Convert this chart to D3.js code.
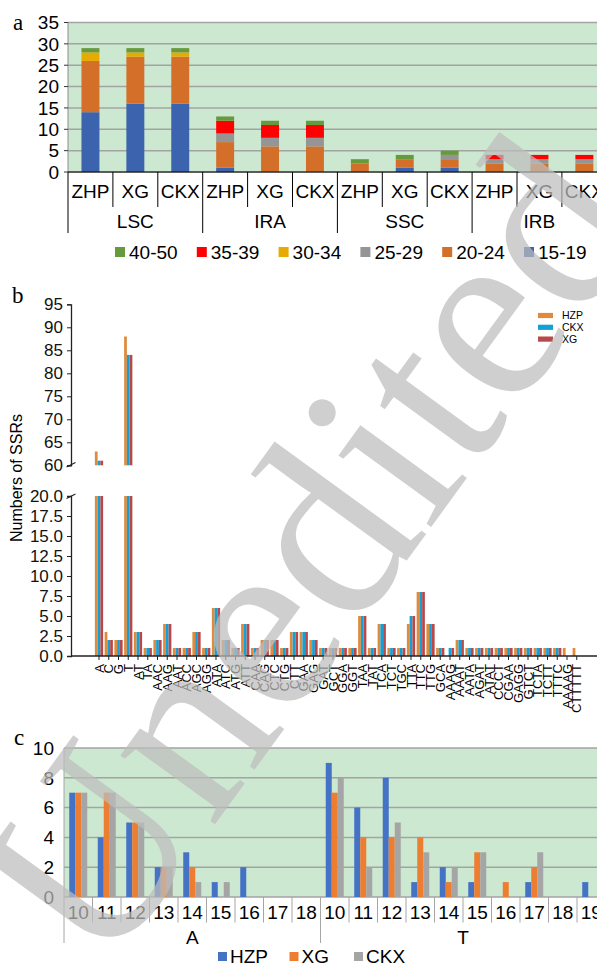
<!DOCTYPE html>
<html>
<head>
<meta charset="utf-8">
<script src="https://cdn.jsdelivr.net/npm/d3@7"></script>
<style>
  body { margin: 0; background: #fff; }
  svg { display: block; }
</style>
</head>
<body>
<svg id="chart" width="597" height="965"></svg>
<script>
// ---------- data: panel a (SSR length classes by region / sample)
const regions = ["LSC", "IRA", "SSC", "IRB"];
const samplesA = ["ZHP", "XG", "CKX"];
const lengthClasses = ["15-19", "20-24", "25-29", "30-34", "35-39", "40-50"];
// one value per region x sample, order LSC-ZHP, LSC-XG, LSC-CKX, IRA-ZHP ...
const len15_19 = [14, 16, 16, 1, 0, 0, 0, 1, 1, 0, 0, 0];
const len20_24 = [12, 11, 11, 6, 6, 6, 2, 2, 2, 2, 2, 2];
const len25_29 = [0, 0, 0, 2, 2, 2, 0, 0, 1, 1, 1, 1];
const len30_34 = [2, 1, 1, 0, 0, 0, 0, 0, 0, 0, 0, 0];
const len35_39 = [0, 0, 0, 3, 3, 3, 0, 0, 0, 1, 1, 1];
const len40_50 = [1, 1, 1, 1, 1, 1, 1, 1, 1, 0, 0, 0];
const yTicksA = [0, 5, 10, 15, 20, 25, 30, 35];

// ---------- data: panel b (SSR motifs)
const motifs = ["A", "C", "G", "T", "AT", "TA", "AAC", "AAG", "AAT", "ACC", "AGC", "AGG", "ATA", "ATC",
  "ATG", "ATT", "CAA", "CAG", "CTC", "CTG", "CTT", "GAA", "GAG", "GAT", "GCT", "GGA", "GGT", "TAA",
  "TAT", "TCA", "TCT", "TGC", "TTA", "TTC", "TTG", "GCA", "AAAG", "AAAT", "AATA", "AGAT", "ATAT", "CCCT",
  "CGAA", "GAGG", "GTCT", "TCTA", "TCTT", "TTTC", "AAAAG", "CTTTTT"];
const motifHZP = [63, 3, 2, 88, 3, 1, 2, 4, 1, 1, 3, 1, 6, 2, 1, 4, 1, 2, 2, 1, 3, 3, 2, 1, 1, 1, 1, 5,
  1, 4, 1, 1, 4, 8, 4, 1, 0, 2, 1, 1, 1, 1, 1, 1, 1, 1, 1, 1, 1, 1];
const motifCKX = [61, 2, 2, 84, 3, 1, 2, 4, 1, 1, 3, 1, 6, 2, 1, 4, 1, 2, 2, 1, 3, 3, 2, 1, 1, 1, 1, 5,
  1, 4, 1, 1, 5, 8, 4, 1, 1, 2, 1, 1, 1, 1, 1, 1, 1, 1, 1, 1, 0, 0];
const motifXG = [61, 2, 2, 84, 3, 1, 2, 4, 1, 1, 3, 1, 6, 2, 1, 4, 1, 2, 2, 1, 3, 3, 2, 1, 1, 1, 1, 5,
  1, 4, 1, 1, 5, 8, 4, 1, 1, 2, 1, 1, 1, 1, 1, 1, 1, 1, 1, 1, 0, 0];
const motifSeries = ["HZP", "CKX", "XG"];
const yTicksTop = [60, 65, 70, 75, 80, 85, 90, 95];
const yTicksBot = [0, 2.5, 5, 7.5, 10, 12.5, 15, 17.5, 20];

// ---------- data: panel c (repeat length of A / T mononucleotides)
const monoGroups = ["A", "T"];
const repeatsA = ["10", "11", "12", "13", "14", "15", "16", "17", "18"];
const repeatsT = ["10", "11", "12", "13", "14", "15", "16", "17", "18", "19"];
const hzpA = [7, 4, 5, 2, 3, 1, 2, 0, 0];
const xgA = [7, 7, 5, 2, 2, 0, 0, 0, 0];
const ckxA = [7, 7, 5, 2, 1, 1, 0, 0, 0];
const hzpT = [9, 6, 8, 1, 2, 1, 0, 1, 0, 1];
const xgT = [7, 4, 4, 4, 1, 3, 1, 2, 0, 0];
const ckxT = [8, 2, 5, 3, 2, 3, 0, 3, 0, 0];
const seriesC = ["HZP", "XG", "CKX"];
const yTicksC = [0, 2, 4, 6, 8, 10];

const sans = "'Liberation Sans', Arial, sans-serif";
const serif = "'Liberation Serif', 'Times New Roman', serif";
const svg = d3.select("#chart");

// =============== panel a
(function () {
  const left = 68, band = 44.9, top = 22.5, bottom = 172;
  const cats = regions.flatMap(r => samplesA.map(s => r + "|" + s));
  const x = d3.scaleBand().domain(cats).range([left, left + band * cats.length]);
  const y = d3.scaleLinear().domain([0, 35]).range([bottom, top]);
  const color = d3.scaleOrdinal().domain(lengthClasses)
    .range(["#3b63ae", "#d46f29", "#959595", "#e7ab00", "#ff0000", "#67993d"]);
  const cols = [len15_19, len20_24, len25_29, len30_34, len35_39, len40_50];
  const rows = cats.map((c, i) => {
    const r = { cat: c };
    lengthClasses.forEach((k, j) => r[k] = cols[j][i]);
    return r;
  });
  const g = svg.append("g");

  g.append("rect").attr("x", left).attr("y", top).attr("width", 600 - left)
    .attr("height", bottom - top).attr("fill", "#cde8d1");
  g.selectAll(".grid").data(yTicksA).join("line")
    .attr("x1", left).attr("x2", 600).attr("y1", d => y(d)).attr("y2", d => y(d))
    .attr("stroke", "#a3a3a3").attr("stroke-width", 1.5);
  g.append("line").attr("x1", left).attr("x2", left).attr("y1", top).attr("y2", bottom)
    .attr("stroke", "#8c8c8c");
  g.selectAll(".tk").data(yTicksA).join("line")
    .attr("x1", left - 4).attr("x2", left).attr("y1", d => y(d)).attr("y2", d => y(d))
    .attr("stroke", "#333");
  g.selectAll(".yl").data(yTicksA).join("text")
    .attr("x", 59).attr("y", d => y(d)).attr("dy", "0.36em").attr("text-anchor", "end")
    .attr("font-family", sans).attr("font-size", 19).text(d => d);

  const stack = d3.stack().keys(lengthClasses)(rows);
  const bw = band * 0.4;
  g.selectAll(".layer").data(stack).join("g").attr("fill", d => color(d.key))
    .selectAll("rect").data(d => d).join("rect")
    .attr("x", d => x(d.data.cat) + (band - bw) / 2).attr("width", bw)
    .attr("y", d => y(d[1])).attr("height", d => y(d[0]) - y(d[1]));

  // category axis
  g.append("line").attr("x1", left).attr("x2", 600).attr("y1", bottom).attr("y2", bottom)
    .attr("stroke", "#000").attr("stroke-width", 1.2);
  const bounds = d3.range(cats.length + 1);
  g.selectAll(".sep").data(bounds).join("line")
    .attr("x1", i => left + band * i).attr("x2", i => left + band * i)
    .attr("y1", bottom).attr("y2", i => i % 3 === 0 ? 233 : 207)
    .attr("stroke", "#000").attr("stroke-width", 1);
  g.selectAll(".sl").data(cats).join("text")
    .attr("x", d => x(d) + band / 2).attr("y", 191).attr("dy", "0.36em")
    .attr("text-anchor", "middle").attr("font-family", sans).attr("font-size", 19)
    .text(d => d.split("|")[1]);
  g.selectAll(".rl").data(regions).join("text")
    .attr("x", (d, i) => left + band * (i * 3 + 1.5)).attr("y", 221.5).attr("dy", "0.36em")
    .attr("text-anchor", "middle").attr("font-family", sans).attr("font-size", 19)
    .text(d => d);

  // legend, reverse order
  const leg = lengthClasses.slice().reverse();
  const lg = g.selectAll(".leg").data(leg).join("g")
    .attr("transform", (d, i) => `translate(${115 + i * 81.8},252)`);
  lg.append("rect").attr("x", 0).attr("y", -5).attr("width", 10).attr("height", 10)
    .attr("fill", d => color(d));
  lg.append("text").attr("x", 14).attr("dy", "0.36em").attr("font-family", sans)
    .attr("font-size", 19).text(d => d);

  svg.append("text").attr("x", 13).attr("y", 30).attr("font-family", serif)
    .attr("font-size", 23).text("a");
})();

// =============== panel b
(function () {
  const left = 71, step = 9.75;
  const x = d3.scaleBand().domain(motifs).range([99 - step / 2, 99 - step / 2 + step * motifs.length]);
  const xs = d3.scaleBand().domain(motifSeries).range([0, 8.25]);
  const yTop = d3.scaleLinear().domain([60, 95]).range([465.3, 304.3]);
  const yBot = d3.scaleLinear().domain([0, 20]).range([656, 496]);
  const color = d3.scaleOrdinal().domain(motifSeries).range(["#e08b3c", "#12a1d6", "#b9484a"]);
  const vals = { HZP: motifHZP, CKX: motifCKX, XG: motifXG };
  const bars = [];
  motifs.forEach((m, i) => motifSeries.forEach(s => bars.push({ m, s, v: vals[s][i] })));
  const g = svg.append("g");
  const off = (step - 8.25) / 2;

  g.selectAll(".bb").data(bars.filter(d => d.v > 0)).join("rect")
    .attr("x", d => x(d.m) + off + xs(d.s)).attr("width", xs.bandwidth())
    .attr("y", d => yBot(Math.min(d.v, 20))).attr("height", d => yBot(0) - yBot(Math.min(d.v, 20)))
    .attr("fill", d => color(d.s));
  g.selectAll(".bt").data(bars.filter(d => d.v > 60)).join("rect")
    .attr("x", d => x(d.m) + off + xs(d.s)).attr("width", xs.bandwidth())
    .attr("y", d => yTop(d.v)).attr("height", d => yTop(60) - yTop(d.v))
    .attr("fill", d => color(d.s));

  // axes
  const axisTop = g.append("g").attr("transform", `translate(${left},0)`)
    .call(d3.axisLeft(yTop).tickValues(yTicksTop).tickSize(4).tickFormat(d3.format("d")));
  const axisBot = g.append("g").attr("transform", `translate(${left},0)`)
    .call(d3.axisLeft(yBot).tickValues(yTicksBot).tickSize(4).tickFormat(d3.format(".1f")));
  [axisTop, axisBot].forEach(a => {
    a.select(".domain").attr("stroke", "#222").attr("stroke-width", 1.3);
    a.selectAll(".tick line").attr("stroke", "#222");
    a.selectAll(".tick text").attr("font-family", sans).attr("font-size", 17)
      .attr("fill", "#111").attr("x", -8);
  });
  // break marks
  [[467, 462.5], [498.5, 494]].forEach(([y1, y2]) => {
    g.append("line").attr("x1", left - 4.5).attr("x2", left + 4.5).attr("y1", y1).attr("y2", y2)
      .attr("stroke", "#222").attr("stroke-width", 1.2);
  });

  g.append("line").attr("x1", left).attr("x2", 600).attr("y1", 656).attr("y2", 656)
    .attr("stroke", "#222").attr("stroke-width", 1.3);
  g.selectAll(".xt").data(motifs).join("line")
    .attr("x1", d => x(d) + step / 2).attr("x2", d => x(d) + step / 2)
    .attr("y1", 656).attr("y2", 660).attr("stroke", "#222");
  g.selectAll(".xl").data(motifs).join("text")
    .attr("transform", d => `translate(${x(d) + step / 2},664) rotate(-90)`)
    .attr("text-anchor", "end").attr("dy", "0.36em")
    .attr("font-family", sans).attr("font-size", 13).text(d => d);

  g.append("text").attr("transform", "translate(22,478) rotate(-90)")
    .attr("text-anchor", "middle").attr("font-family", sans).attr("font-size", 16)
    .text("Numbers of SSRs");

  const lg = g.selectAll(".leg").data(motifSeries).join("g")
    .attr("transform", (d, i) => `translate(538,${315.5 + i * 11.8})`);
  lg.append("rect").attr("y", -2.6).attr("width", 15).attr("height", 5.2).attr("fill", d => color(d));
  lg.append("text").attr("x", 24).attr("dy", "0.34em").attr("font-family", sans)
    .attr("font-size", 10.5).text(d => d);

  svg.append("text").attr("x", 12).attr("y", 303).attr("font-family", serif)
    .attr("font-size", 23).text("b");
})();

// =============== panel c
(function () {
  const left = 64, band = 28.5, top = 748, bottom = 897;
  const cats = [...repeatsA.map(r => "A" + r), ...repeatsT.map(r => "T" + r)];
  const x = d3.scaleBand().domain(cats).range([left, left + band * cats.length]);
  const xs = d3.scaleBand().domain(seriesC).range([0, 18]);
  const y = d3.scaleLinear().domain([0, 10]).range([bottom, top]);
  const color = d3.scaleOrdinal().domain(seriesC).range(["#4472c4", "#ed7d31", "#a5a5a5"]);
  const vals = { HZP: [...hzpA, ...hzpT], XG: [...xgA, ...xgT], CKX: [...ckxA, ...ckxT] };
  const bars = [];
  cats.forEach((c, i) => seriesC.forEach(s => bars.push({ c, s, v: vals[s][i] })));
  const g = svg.append("g");

  g.append("rect").attr("x", left).attr("y", top).attr("width", 600 - left)
    .attr("height", bottom - top).attr("fill", "#cde8d1");
  g.selectAll(".grid").data(yTicksC).join("line")
    .attr("x1", left).attr("x2", 600).attr("y1", d => y(d)).attr("y2", d => y(d))
    .attr("stroke", "#a3a3a3").attr("stroke-width", 1.5);
  g.selectAll(".yl").data(yTicksC).join("text")
    .attr("x", 54).attr("y", d => y(d)).attr("dy", "0.36em").attr("text-anchor", "end")
    .attr("font-family", sans).attr("font-size", 19).text(d => d);

  g.selectAll(".bar").data(bars.filter(d => d.v > 0)).join("rect")
    .attr("x", d => x(d.c) + (band - 18) / 2 + xs(d.s)).attr("width", xs.bandwidth())
    .attr("y", d => y(d.v)).attr("height", d => y(0) - y(d.v)).attr("fill", d => color(d.s));

  const bounds = d3.range(cats.length + 1);
  g.selectAll(".sep").data(bounds).join("line")
    .attr("x1", i => left + band * i).attr("x2", i => left + band * i)
    .attr("y1", i => i === 0 ? top : bottom)
    .attr("y2", i => (i === 0 || i === repeatsA.length) ? 943 : 922.5)
    .attr("stroke", "#a6a6a6").attr("stroke-width", 1);
  g.selectAll(".sl").data(cats).join("text")
    .attr("x", d => x(d) + band / 2).attr("y", 912.5).attr("dy", "0.36em")
    .attr("text-anchor", "middle").attr("font-family", sans).attr("font-size", 19)
    .text(d => d.slice(1));
  g.selectAll(".gl").data(monoGroups).join("text")
    .attr("x", (d, i) => i === 0 ? left + band * repeatsA.length / 2
      : left + band * (repeatsA.length + repeatsT.length / 2))
    .attr("y", 937).attr("dy", "0.36em").attr("text-anchor", "middle")
    .attr("font-family", sans).attr("font-size", 19).text(d => d);

  const legX = [218, 289.5, 354];
  const lg = g.selectAll(".leg").data(seriesC).join("g")
    .attr("transform", (d, i) => `translate(${legX[i]},956.5)`);
  lg.append("rect").attr("y", -4.5).attr("width", 9).attr("height", 9).attr("fill", d => color(d));
  lg.append("text").attr("x", 12).attr("dy", "0.36em").attr("font-family", sans)
    .attr("font-size", 19).text(d => d);

  svg.append("text").attr("x", 14).attr("y", 745).attr("font-family", serif)
    .attr("font-size", 23).text("c");
})();

// watermark
svg.append("text")
  .attr("transform", "translate(378,600) rotate(-54)")
  .attr("text-anchor", "middle").attr("font-family", serif).attr("font-size", 255)
  .attr("fill", "#bdbdbd").attr("fill-opacity", 0.72).text("Unedited");
</script>
</body>
</html>
